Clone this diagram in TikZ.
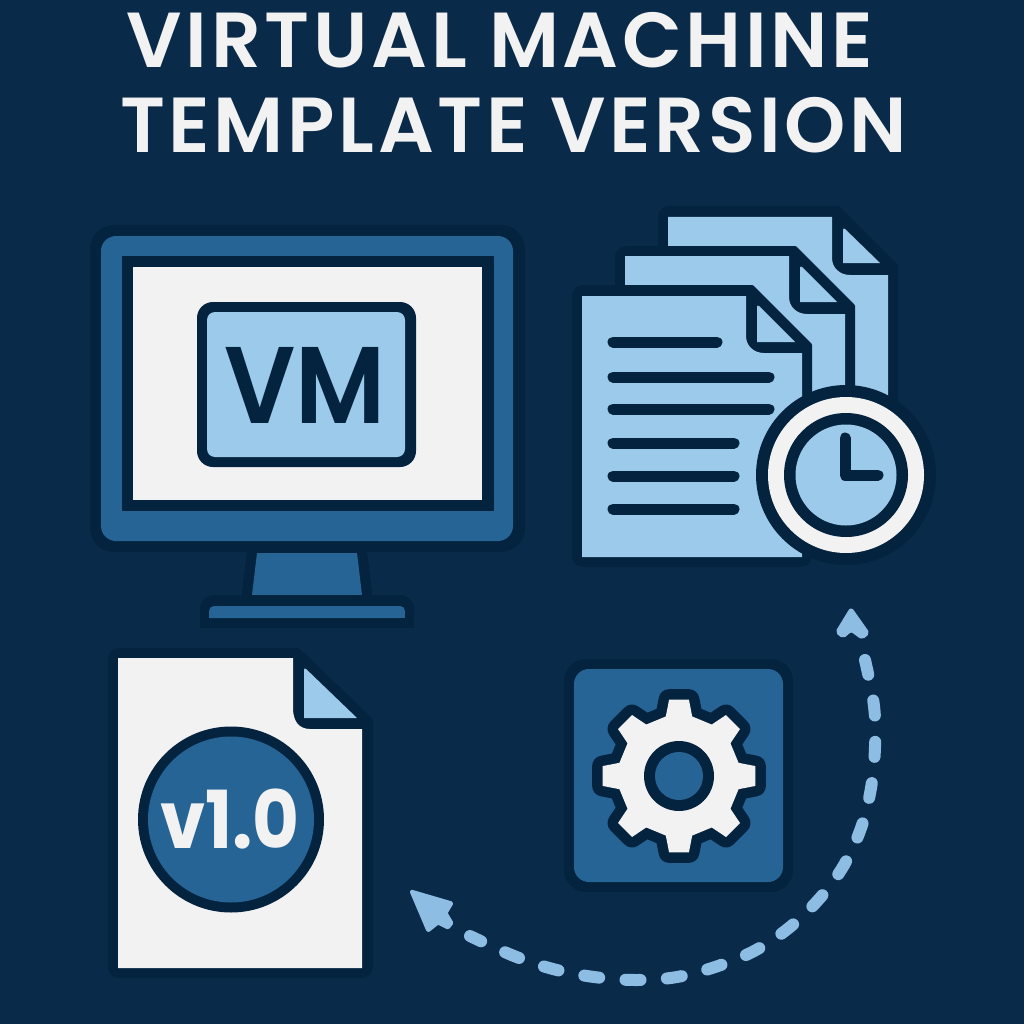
\documentclass[tikz,border=0pt]{standalone}
\usepackage{fontspec}
\setmainfont{Poppins}
\newfontfamily\semifont[LetterSpace=4.7]{Poppins SemiBold}
\newfontfamily\semiplain{Poppins SemiBold}
\usetikzlibrary{calc}
\definecolor{bgc}{HTML}{0A2A4A}
\definecolor{ink}{HTML}{04233F}
\definecolor{midb}{HTML}{266496}
\definecolor{lite}{HTML}{9CCAEA}
\definecolor{dashc}{HTML}{8DBDE3}
\definecolor{paper}{HTML}{F2F2F2}
\tikzset{
 titletext/.style={text=paper,font=\fontsize{78}{80}\selectfont\semifont,inner sep=0pt,anchor=base},
 ol/.style={fill=ink,draw=ink,line width=4pt,line join=round},
 lf/.style={fill=lite,rounded corners=0pt},
 txtline/.style={draw=ink,line width=11pt,line cap=round},
 hand/.style={draw=ink,line width=11pt,line cap=round,line join=round},
 flow/.style={draw=dashc,line width=12pt,line cap=round,dash pattern=on 15pt off 26.4pt},
 headf/.style={fill=dashc,draw=dashc,line width=3pt,line join=round},
}
\begin{document}
\begin{tikzpicture}[x=1pt,y=-1pt]
\useasboundingbox (0,0) rectangle (1024,1024);
\fill[bgc] (0,0) rectangle (1024,1024);
\node[titletext] (t1) at (500,68) {VIRTUAL MACHINE};
\node[titletext] (t2) at (513.5,153) {TEMPLATE VERSION};
% monitor
\fill[ink,rounded corners=24pt] (90,225) rectangle (525,552);
\fill[midb,rounded corners=15pt] (101,236) rectangle (513,541);
\fill[ink] (122,256) rectangle (494,511);
\fill[paper] (133,267) rectangle (482,500);
\fill[ink,rounded corners=16pt] (197,302) rectangle (416,467);
\fill[lite,rounded corners=8pt] (207,312) rectangle (405,457);
\node[text=ink,font=\fontsize{109}{109}\selectfont\semiplain,inner sep=0pt,anchor=base] (vm) at (305,423) {\scalebox{0.92}[1]{VM}};
\fill[ink] (247,552) -- (367,552) -- (373,600) -- (241,600) -- cycle;
\fill[midb] (257,553) -- (357,553) -- (362,595) -- (252,595) -- cycle;
\fill[ink,rounded corners=14pt] (200,628) -- (200,595) -- (414,595) -- (414,628) [sharp corners] -- cycle;
\fill[ink] (200,610) rectangle (414,628);
\fill[midb,rounded corners=5pt] (209,618) -- (209,606) -- (405,606) -- (405,618) [sharp corners] -- cycle;
\fill[midb] (209,612) rectangle (405,618);
% document stack: back
\path[ol,rounded corners=9pt] (660,208) [sharp corners] -- (838,208) -- (896,266) -- (896,420) -- (660,420) [rounded corners=9pt] -- cycle;
\fill[lf] (668,217) -- (832,217) -- (832,258) .. controls (832,268) and (840,275) .. (850,275) -- (888,275) -- (888,420) -- (668,420) -- cycle;
\fill[lite,rounded corners=3pt] (843,263) -- (843,227) [sharp corners] -- (880,263) -- cycle;
% middle
\path[ol,rounded corners=9pt] (617,248) [sharp corners] -- (795,248) -- (853,306) -- (853,440) -- (617,440) [rounded corners=9pt] -- cycle;
\fill[lf] (625,256) -- (789,256) -- (789,297) .. controls (789,307) and (797,314) .. (807,314) -- (845,314) -- (845,440) -- (625,440) -- cycle;
\fill[lite,rounded corners=3pt] (800,302) -- (800,265) [sharp corners] -- (837,302) -- cycle;
% front
\path[ol,rounded corners=9pt] (574,287) [sharp corners] -- (752,287) -- (810,345) [rounded corners=9pt] -- (810,565) -- (574,565) -- cycle;
\fill[lf] (582,296) -- (746,296) -- (746,336) .. controls (746,346) and (754,353) .. (764,353) -- (802,353) -- (802,557) -- (582,557) -- cycle;
\fill[lite,rounded corners=3pt] (757,342) -- (757,304) [sharp corners] -- (795,342) -- cycle;
\draw[txtline] (613,342) -- (717,342);
\draw[txtline] (613,377) -- (769,377);
\draw[txtline] (613,409) -- (769,409);
\draw[txtline] (613,443) -- (734,443);
\draw[txtline] (613,476) -- (734,476);
\draw[txtline] (613,509) -- (734,509);
% clock
\fill[ink] (846,475) circle[radius=90];
\fill[paper] (846,475) circle[radius=78];
\fill[ink] (846,475) circle[radius=62];
\fill[lite] (846,475) circle[radius=50.5];
\draw[hand] (845,438) -- (845,475) -- (878,475);
% gear tile
\fill[ink,rounded corners=22pt] (564,659) rectangle (793,892);
\fill[midb,rounded corners=15pt] (574,669) rectangle (783,882);
\begin{scope}[shift={(679,776)}]
 \def\gearp{(-12.5:61) -- (-7.4:77) -- (7.4:77) -- (12.5:61)
  -- (32.5:61) -- (37.6:77) -- (52.4:77) -- (57.5:61)
  -- (77.5:61) -- (82.6:77) -- (97.4:77) -- (102.5:61)
  -- (122.5:61) -- (127.6:77) -- (142.4:77) -- (147.5:61)
  -- (167.5:61) -- (172.6:77) -- (187.4:77) -- (192.5:61)
  -- (212.5:61) -- (217.6:77) -- (232.4:77) -- (237.5:61)
  -- (257.5:61) -- (262.6:77) -- (277.4:77) -- (282.5:61)
  -- (302.5:61) -- (307.6:77) -- (322.4:77) -- (327.5:61) -- cycle}
 \draw[ink,fill=ink,line width=21pt,line join=round] \gearp;
 \fill[paper] \gearp;
 \fill[ink] (0,0) circle[radius=35];
 \fill[midb] (0,0) circle[radius=24];
\end{scope}
% version document
\path[ol,rounded corners=9pt] (110,650) [sharp corners] -- (298,650) -- (371,720) [rounded corners=9pt] -- (371,976) -- (110,976) -- cycle;
\fill[paper] (118,658) -- (293,658) -- (293,708) .. controls (293,720) and (298,729) .. (310,729) -- (362,729) -- (362,968) -- (118,968) -- cycle;
\fill[lite,rounded corners=3pt] (304,718) -- (304,667) [sharp corners] -- (357,718) -- cycle;
\fill[ink] (231,819.5) circle[radius=93];
\fill[midb] (231,819.5) circle[radius=83];
\node[text=paper,font=\fontsize{80}{80}\selectfont\bfseries,inner sep=0pt,anchor=base] (ver) at (230,848) {\scalebox{0.9}[1]{v1.0}};
% flow arrow
\coordinate (flowa) at (865,660);
\coordinate (flowb) at (470,936);
\draw[flow] plot[smooth,tension=0.6] coordinates {(flowa) (874,706) (875,747) (871,788) (861,828) (844,865) (820,898) (790,927) (756,950) (718,966) (677,977) (636,980) (594,977) (553,969) (514,956) (flowb)};
\path[headf,rounded corners=2pt] (851,609) -- (837,632) -- (843,637) -- (851,630) -- (862,638) -- (868,633) -- cycle;
\path[headf,rounded corners=1pt] (411,891) -- (452,903) -- (446,913) -- (452,923) -- (448,928) -- (438,923) -- (428,931) -- cycle;
\end{tikzpicture}
\end{document}
